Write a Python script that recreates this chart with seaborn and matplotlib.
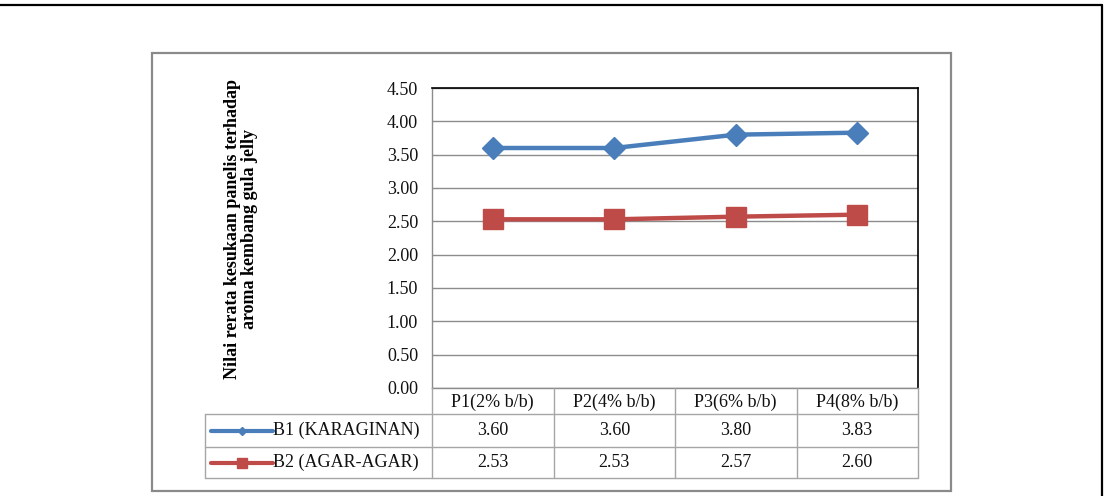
import numpy as np
import pandas as pd
import seaborn as sns
import matplotlib.pyplot as plt
import matplotlib.transforms as mtransforms
from matplotlib.lines import Line2D
from matplotlib.patches import Rectangle

# ---- data ----
categories = ["P1(2% b/b)", "P2(4% b/b)", "P3(6% b/b)", "P4(8% b/b)"]
series_names = ["B1 (KARAGINAN)", "B2 (AGAR-AGAR)"]
b1_values = [3.60, 3.60, 3.80, 3.83]
b2_values = [2.53, 2.53, 2.57, 2.60]
y_ticks = [0.0, 0.5, 1.0, 1.5, 2.0, 2.5, 3.0, 3.5, 4.0, 4.5]
y_label = "Nilai rerata kesukaan panelis terhadap\naroma kembang gula jelly"

BLUE = "#4A7EBB"
RED = "#BE4B48"
GRID = "#8C8C8C"
TBL = "#A6A6A6"
FS = 13

sns.set_theme(style="white")
plt.rcParams["font.family"] = ["Liberation Serif", "DejaVu Serif"]

W, H = 1104, 496
fig = plt.figure(figsize=(W / 100, H / 100), dpi=100)
fig.patch.set_facecolor("white")


def fx(px):
    return px / W


def fy(py):
    return 1 - py / H


# outer frame (top + right visible)
fig.add_artist(Line2D([0, fx(1102)], [fy(5), fy(5)], color="black", lw=1.6, transform=fig.transFigure))
fig.add_artist(Line2D([fx(1102), fx(1102)], [fy(5), 0], color="black", lw=1.6, transform=fig.transFigure))
# chart area frame
fig.add_artist(Rectangle((fx(152), fy(491)), fx(951) - fx(152), fy(53) - fy(491),
                         fill=False, edgecolor="#8A8A8A", lw=1.6, transform=fig.transFigure))

ax = fig.add_axes([fx(432), fy(388), fx(918) - fx(432), fy(88) - fy(388)])

df = pd.DataFrame({
    "cat": categories * 2,
    "val": b1_values + b2_values,
    "series": [series_names[0]] * 4 + [series_names[1]] * 4,
})

sns.lineplot(data=df[df.series == series_names[0]], x="cat", y="val", ax=ax, color=BLUE,
             lw=3.2, marker="D", markersize=11, markeredgecolor=BLUE, markeredgewidth=1,
             sort=False, legend=False)
sns.lineplot(data=df[df.series == series_names[1]], x="cat", y="val", ax=ax, color=RED,
             lw=3.2, marker="s", markersize=15, markeredgecolor=RED, markeredgewidth=1,
             sort=False, legend=False)

ax.set_xlim(-0.5, 3.5)
ax.set_ylim(0, 4.5)
ax.set_yticks(y_ticks)
ax.set_yticklabels([f"{v:.2f}" for v in y_ticks])
ax.yaxis.grid(True, color=GRID, lw=1)
ax.xaxis.grid(False)
ax.set_axisbelow(True)
ax.tick_params(axis="y", length=0, pad=10, labelsize=FS, labelcolor="#111111")
ax.tick_params(axis="x", length=0, pad=4, labelsize=FS, labelcolor="#111111")
ax.set_xlabel("")
ax.set_ylabel("")
for side in ["top", "right"]:
    ax.spines[side].set_color("black")
    ax.spines[side].set_linewidth(1.2)
ax.spines["left"].set_color(GRID)
ax.spines["left"].set_linewidth(1)
ax.spines["bottom"].set_color(GRID)
ax.spines["bottom"].set_linewidth(1)

# y label
fig.text(fx(241), fy(229), y_label, rotation=90, ha="center", va="center",
         fontsize=13, fontweight="bold", linespacing=1.0, color="black")

# ---- data table below axis ----
blend = mtransforms.blended_transform_factory(ax.transData, fig.transFigure)
rows_y = [414, 447, 478]
for xd in [-0.5, 0.5, 1.5, 2.5, 3.5]:
    fig.add_artist(Line2D([xd, xd], [fy(388), fy(478)], color=TBL, lw=1, transform=blend))
fig.add_artist(Line2D([fx(205), fx(205)], [fy(414), fy(478)], color=TBL, lw=1, transform=fig.transFigure))
for ry in rows_y:
    fig.add_artist(Line2D([fx(205), fx(918)], [fy(ry), fy(ry)], color=TBL, lw=1, transform=fig.transFigure))

row_centers = [430.5, 462.5]
series_vals = [b1_values, b2_values]
series_cols = [BLUE, RED]
series_marks = [("D", 4), ("s", 7)]
for r, (name, vals, col, (mk, ms)) in enumerate(zip(series_names, series_vals, series_cols, series_marks)):
    yc = fy(row_centers[r])
    fig.add_artist(Line2D([fx(211), fx(242), fx(273)], [yc, yc, yc], color=col, lw=3,
                          marker=mk, markersize=ms, markevery=[1], markeredgecolor=col,
                          transform=fig.transFigure))
    fig.text(fx(273), yc, name, ha="left", va="center", fontsize=FS, color="#111111")
    for i, v in enumerate(vals):
        fig.text(i, yc, f"{v:.2f}", ha="center", va="center", fontsize=FS,
                 color="#111111", transform=blend)

fig.savefig("out.png", dpi=100, facecolor="white")
